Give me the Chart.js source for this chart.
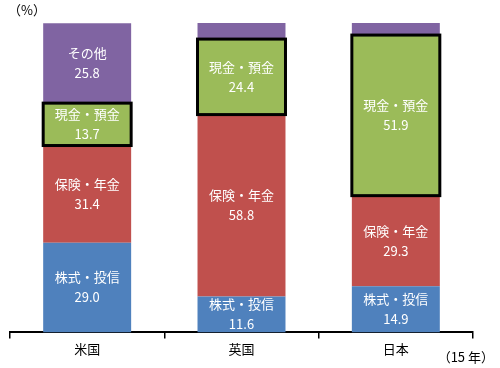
<!DOCTYPE html>
<html>
<head>
<meta charset="utf-8">
<script src="https://cdn.jsdelivr.net/npm/chart.js@4/dist/chart.umd.min.js"></script>
<style>
html,body{margin:0;padding:0;background:#fff;}
#wrap{position:relative;width:500px;height:368px;}
</style>
</head>
<body>
<div id="wrap"><canvas id="c" width="500" height="368"></canvas></div>
<script>
const categories = ["米国", "英国", "日本"];
const stocks = [29.0, 11.6, 14.9];
const insurance = [31.4, 58.8, 29.3];
const cash = [13.7, 24.4, 51.9];
const other = [25.8, 5.2, 3.9];
const seriesNames = ["株式・投信", "保険・年金", "現金・預金", "その他"];
const unitLabel = "（%）";
const yearLabel = "（15 年）";
const highlightedSeries = 2;

const FONT = "'Noto Sans CJK JP', 'Noto Sans', sans-serif";

const frameAndLabels = {
  id: 'frameAndLabels',
  afterDatasetsDraw(chart) {
    const ctx = chart.ctx;
    ctx.save();
    // frame around highlighted series
    const hm = chart.getDatasetMeta(highlightedSeries);
    ctx.strokeStyle = '#000';
    ctx.lineWidth = 3;
    hm.data.forEach(el => {
      const p = el.getProps(['x', 'y', 'base', 'width'], true);
      ctx.strokeRect(p.x - p.width / 2, Math.min(p.y, p.base), p.width, Math.abs(p.base - p.y));
    });
    // segment labels
    ctx.fillStyle = '#fff';
    ctx.textAlign = 'center';
    ctx.textBaseline = 'middle';
    ctx.font = "13px " + FONT;
    chart.data.datasets.forEach((ds, di) => {
      const meta = chart.getDatasetMeta(di);
      meta.data.forEach((el, i) => {
        const v = ds.data[i];
        if (v < 10) return;
        const c = el.getCenterPoint();
        ctx.fillText(ds.label, c.x, c.y - 10);
        ctx.fillText(v.toFixed(1), c.x, c.y + 10);
      });
    });
    ctx.restore();
  }
};

const extraText = {
  id: 'extraText',
  afterDraw(chart) {
    const ctx = chart.ctx;
    ctx.save();
    ctx.fillStyle = '#000';
    ctx.font = "13px " + FONT;
    ctx.textBaseline = 'middle';
    ctx.textAlign = 'left';
    ctx.fillText(unitLabel, 8, 10);
    ctx.textAlign = 'right';
    ctx.fillText(yearLabel, 494, 357);
    ctx.restore();
  }
};

new Chart(document.getElementById('c'), {
  type: 'bar',
  data: {
    labels: categories,
    datasets: [
      {label: seriesNames[0], data: stocks, backgroundColor: '#4F81BD', borderWidth: 0},
      {label: seriesNames[1], data: insurance, backgroundColor: '#C0504D', borderWidth: 0},
      {label: seriesNames[2], data: cash, backgroundColor: '#9BBB59', borderWidth: 0},
      {label: seriesNames[3], data: other, backgroundColor: '#8064A2', borderWidth: 0}
    ]
  },
  options: {
    responsive: false,
    animation: false,
    devicePixelRatio: 1,
    layout: {padding: {left: 10, right: 27, top: 23, bottom: 8}},
    plugins: {legend: {display: false}, tooltip: {enabled: false}, title: {display: false}},
    datasets: {bar: {categoryPercentage: 1.0, barPercentage: 0.57}},
    scales: {
      x: {
        stacked: true,
        border: {display: true, color: '#000', width: 2},
        grid: {display: true, drawOnChartArea: false, drawTicks: true, tickLength: 6, color: '#000', lineWidth: 1.5, offset: true},
        ticks: {color: '#000', font: {family: FONT, size: 13}, padding: 3}
      },
      y: {
        stacked: true,
        display: false,
        min: 0,
        max: 100
      }
    }
  },
  plugins: [frameAndLabels, extraText]
});
</script>
</body>
</html>
